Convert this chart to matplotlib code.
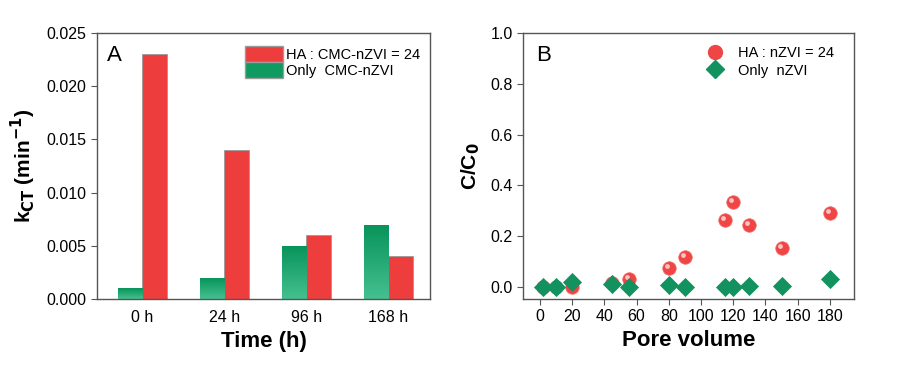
import numpy as np
import matplotlib.pyplot as plt
from matplotlib.patches import Patch
from matplotlib.lines import Line2D

plt.rcParams['font.family'] = ['Liberation Sans', 'DejaVu Sans']

# panel A data
times = ['0 h', '24 h', '96 h', '168 h']
k_only = [0.001, 0.002, 0.005, 0.007]
k_ha = [0.023, 0.014, 0.006, 0.004]

# panel B data
pv_ha = [2, 10, 20, 45, 55, 80, 90, 115, 120, 130, 150, 180]
c_ha = [0.0, 0.0, 0.0, 0.015, 0.03, 0.075, 0.12, 0.265, 0.333, 0.245, 0.155, 0.29]
pv_only = [2, 10, 20, 45, 55, 80, 90, 115, 120, 130, 150, 180]
c_only = [0.0, 0.0, 0.018, 0.012, 0.002, 0.01, 0.0, 0.0, 0.002, 0.004, 0.005, 0.032]

RED = '#ee3d3d'
GREEN = '#0f9a62'
EDGE = '#555555'

fig = plt.figure(figsize=(9.12, 3.68), dpi=100)
ax1 = fig.add_axes([97/912, 1-299/368, 333/912, 266/368])
ax2 = fig.add_axes([523/912, 1-299/368, 331/912, 266/368])

# gradient for green bars
grad = np.linspace(0, 1, 100).reshape(-1, 1)
from matplotlib.colors import LinearSegmentedColormap
gcmap = LinearSegmentedColormap.from_list('g', ['#45c090', '#07935a'])

x = np.arange(len(times))
w = 0.3
bars_g = ax1.bar(x - w/2, k_only, w, color=GREEN, edgecolor='#9a9a9a', linewidth=0.6, zorder=2)
bars_r = ax1.bar(x + w/2, k_ha, w, color=RED, edgecolor='#9a9a9a', linewidth=0.6, zorder=2)
for b in bars_g:
    bx, by = b.get_x(), b.get_y()
    bw, bh = b.get_width(), b.get_height()
    im = ax1.imshow(grad, cmap=gcmap, aspect='auto', origin='lower',
                    extent=[bx, bx + bw, by, by + bh], zorder=2.5)
    im.set_clip_path(b)
ax1.set_xlim(-0.55, 3.51)
ax1.set_ylim(0, 0.025)
ax1.set_yticks(np.arange(0, 0.0251, 0.005))
ax1.set_yticklabels(['0.000', '0.005', '0.010', '0.015', '0.020', '0.025'])
ax1.set_xticks(x)
ax1.set_xticklabels(times)
ax1.tick_params(axis='x', length=0, pad=8, labelsize=11.5)
ax1.tick_params(axis='y', direction='out', length=4, width=0.8, color=EDGE, labelsize=11.5)
ax1.set_xlabel('Time (h)', fontsize=16, fontweight='bold', labelpad=4)
ax1.set_ylabel(r'k$_{\mathbf{CT}}$ (min$^{\mathbf{-1}}$)', fontsize=15, fontweight='bold', labelpad=6)
ax1.text(0.03, 0.955, 'A', transform=ax1.transAxes, fontsize=16, va='top')
handles = [Patch(facecolor=RED, edgecolor='#9a9a9a', label='HA : CMC-nZVI = 24'),
           Patch(facecolor=GREEN, edgecolor='#9a9a9a', label='Only  CMC-nZVI')]
ax1.legend(handles=handles, loc='upper right', frameon=False, fontsize=10.5,
           handlelength=2.6, handleheight=1.3, handletextpad=0.2, labelspacing=0.05,
           borderaxespad=0.3, bbox_to_anchor=(1.0, 0.99))

ax2.scatter(pv_ha, c_ha, s=95, color='#f04545', edgecolors='#f27070', linewidths=0.5, zorder=3,
            label='HA : nZVI = 24')
ax2.scatter(np.array(pv_ha) - 1.2, np.array(c_ha) + 0.008, s=12, color='#fbc4c4', linewidths=0, zorder=3.1)
ax2.scatter(pv_only, c_only, s=95, marker='D', color='#12925f', linewidths=0, zorder=4,
            label='Only  nZVI')
ax2.set_xlim(-10.5, 195)
ax2.set_ylim(-0.047, 1.0)
ax2.set_xticks(np.arange(0, 181, 20))
ax2.set_yticks(np.arange(0, 1.01, 0.2))
ax2.set_yticklabels(['0.0', '0.2', '0.4', '0.6', '0.8', '1.0'])
ax2.tick_params(direction='out', length=4, width=0.8, color=EDGE, labelsize=11.5)
ax2.set_xlabel('Pore volume', fontsize=16, fontweight='bold', labelpad=4)
ax2.set_ylabel(r'C/C$_{\mathbf{0}}$', fontsize=15, fontweight='bold', labelpad=6)
ax2.text(0.04, 0.955, 'B', transform=ax2.transAxes, fontsize=16, va='top')
lh = [Line2D([], [], marker='o', ls='', markersize=10, color='#f04545'),
      Line2D([], [], marker='D', ls='', markersize=9, color='#12925f')]
ax2.legend(lh, ['HA : nZVI = 24', 'Only  nZVI'], loc='upper right', frameon=False, fontsize=10.5,
           handletextpad=0.6, labelspacing=0.25, borderaxespad=0.3, bbox_to_anchor=(0.97, 0.99))

for ax in (ax1, ax2):
    for s in ax.spines.values():
        s.set_color(EDGE)
        s.set_linewidth(1.0)

fig.savefig('out.png', dpi=100)
